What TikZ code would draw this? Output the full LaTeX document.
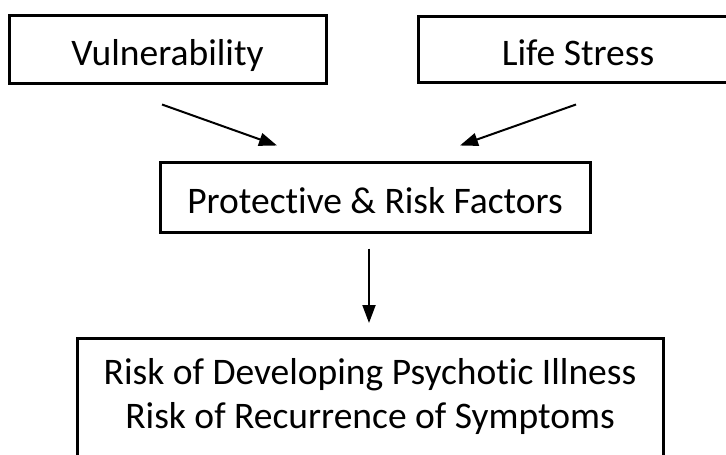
\documentclass[tikz,border=0pt]{standalone}
\usepackage{fontspec}
\setmainfont{Carlito}[Ligatures=NoCommon]
\usetikzlibrary{arrows.meta,positioning}

\begin{document}
\begin{tikzpicture}[x=1pt,y=-1pt,
  box/.style={draw, line width=3pt, inner sep=0pt, text height=32pt, text depth=0pt},
  flow/.style={line width=2pt, -{Triangle[length=18pt,width=13pt]}},
  every node/.style={font=\fontsize{37.5}{44}\selectfont}]

\useasboundingbox (0,0) rectangle (726,455); %% page

\node[box, minimum width=317pt, minimum height=68pt] (vul) at (167.5,49) {Vulnerability};
\node[box, minimum width=320pt, minimum height=66pt] (stress) at (578,49) {Life Stress};
\node[box, minimum width=430pt, minimum height=70pt] (factors) at (375,197.5) {Protective \& Risk Factors};

%% outcome box runs off the bottom
\node[draw, line width=3pt, minimum width=586pt, minimum height=150pt, anchor=north] (outcome) at (370,337) {};
\node[below=21.5pt of outcome.north, align=center, inner sep=0pt] (outtext)
  {Risk of Developing Psychotic Illness\\Risk of Recurrence of Symptoms};

\draw[flow]([shift={(-5.5pt,-20pt)}]vul.south)--([shift={(-98pt,15.5pt)}]factors.north);
\draw[flow]([shift={(-2pt,-21pt)}]stress.south)--([shift={(85pt,15.5pt)}]factors.north);
\draw[flow]([shift={(-6pt,-14.5pt)}]factors.south)--([shift={(-1pt,14pt)}]outcome.north);

\end{tikzpicture}
\end{document}
